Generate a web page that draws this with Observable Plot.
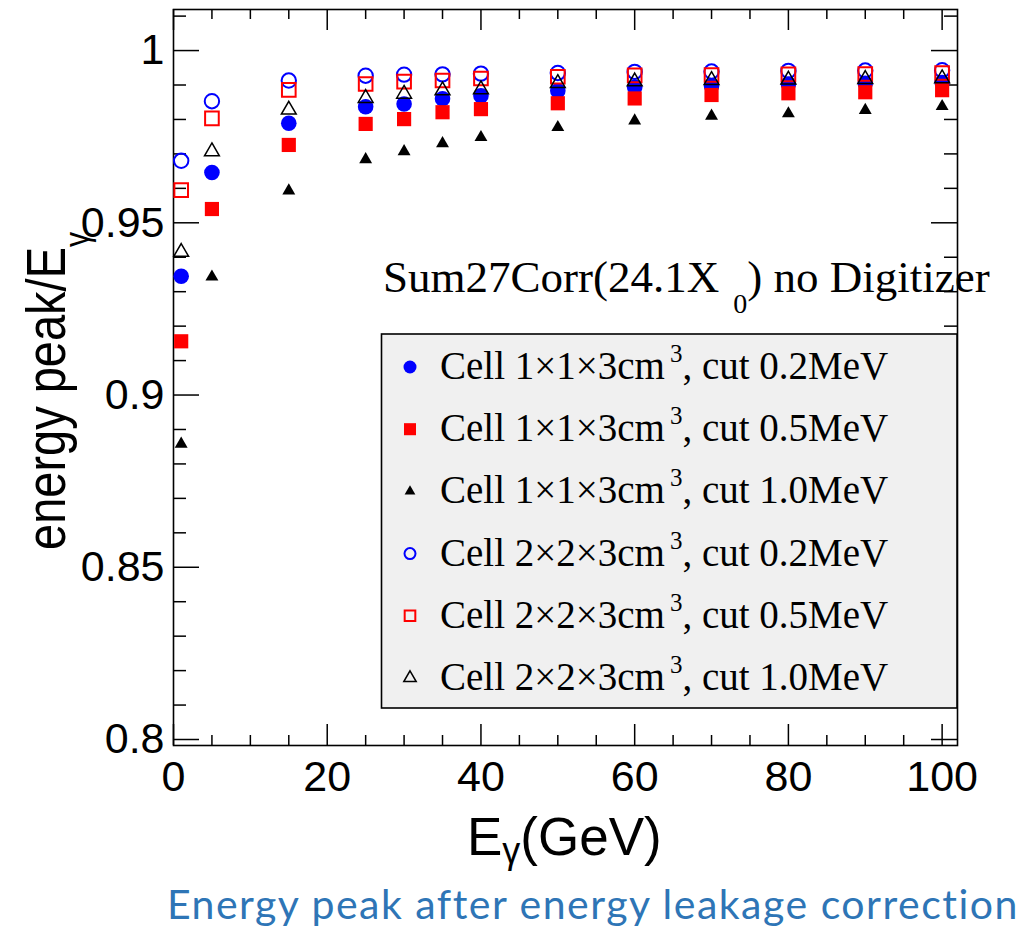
<!DOCTYPE html>
<html>
<head>
<meta charset="utf-8">
<script src="https://cdn.jsdelivr.net/npm/d3@7"></script>
<script src="https://cdn.jsdelivr.net/npm/@observablehq/plot@0.6"></script>
<style>
html, body { margin: 0; padding: 0; background: #fff; }
#chart svg { display: block; }
#caption {
  font-family: Lato, "Open Sans", sans-serif;
  font-size: 41px;
  letter-spacing: 1.5px;
  color: #2E75B6;
  text-align: right;
  padding-right: 4px;
  height: 48px;
  line-height: 48px;
  white-space: nowrap;
}
</style>
</head>
<body>
<div id="chart"></div>
<div id="caption">Energy peak after energy leakage correction</div>
<script>
// ---------- data ----------
const energies = [1, 5, 15, 25, 30, 35, 40, 50, 60, 70, 80, 90, 100];

const cell1Cut02 = [0.9345, 0.9646, 0.9789, 0.9837, 0.9845, 0.9860, 0.9869, 0.9883, 0.9893, 0.9897, 0.9903, 0.9905, 0.9907];
const cell1Cut05 = [0.9156, 0.9540, 0.9726, 0.9787, 0.9801, 0.9821, 0.9830, 0.9847, 0.9861, 0.9871, 0.9876, 0.9879, 0.9885];
const cell1Cut10 = [0.8858, 0.9343, 0.9593, 0.9684, 0.9707, 0.9730, 0.9748, 0.9777, 0.9796, 0.9810, 0.9817, 0.9827, 0.9838];
const cell2Cut02 = [0.9680, 0.9853, 0.9913, 0.9927, 0.9930, 0.9931, 0.9933, 0.9935, 0.9938, 0.9939, 0.9941, 0.9942, 0.9943];
const cell2Cut05 = [0.9595, 0.9803, 0.9886, 0.9903, 0.9910, 0.9913, 0.9919, 0.9924, 0.9928, 0.9929, 0.9931, 0.9932, 0.9935];
const cell2Cut10 = [0.9415, 0.9707, 0.9828, 0.9862, 0.9874, 0.9884, 0.9887, 0.9905, 0.9910, 0.9914, 0.9915, 0.9917, 0.9919];

const cellSizes = ["1×1×3cm", "1×1×3cm", "1×1×3cm", "2×2×3cm", "2×2×3cm", "2×2×3cm"];
const cutLabels = ["0.2MeV", "0.5MeV", "1.0MeV", "0.2MeV", "0.5MeV", "1.0MeV"];

const xMajorTicks = [0, 20, 40, 60, 80, 100];
const xMinorTicks = [5, 10, 15, 25, 30, 35, 45, 50, 55, 65, 70, 75, 85, 90, 95];
const yMajorTicks = [0.8, 0.85, 0.9, 0.95, 1];
const yMinorTicks = [0.81, 0.82, 0.83, 0.84, 0.86, 0.87, 0.88, 0.89, 0.91, 0.92, 0.93, 0.94, 0.96, 0.97, 0.98, 0.99, 1.01];

// ---------- styles ----------
const seriesValues = [cell1Cut02, cell1Cut05, cell1Cut10, cell2Cut02, cell2Cut05, cell2Cut10];
const seriesStyles = [
  {symbol: "circle",   r: 7.8, fill: "#0000ff", stroke: "none",    sw: 0,   lr: 6.5},
  {symbol: "square",   r: 8.0, fill: "#ff0000", stroke: "none",    sw: 0,   lr: 6.8},
  {symbol: "triangle", r: 4.8, fill: "#000000", stroke: "none",    sw: 0,   lr: 4.0},
  {symbol: "circle",   r: 7.2, fill: "none",    stroke: "#0000ff", sw: 2,   lr: 5.5},
  {symbol: "square",   r: 7.7, fill: "none",    stroke: "#ff0000", sw: 2,   lr: 6.0},
  {symbol: "triangle", r: 5.5, fill: "none",    stroke: "#000000", sw: 1.5, lr: 4.6}
];

// ---------- layout ----------
const W = 1023, H = 880, mL = 173, mR = 66, mT = 9, mB = 135;
const plotW = W - mL - mR, plotH = H - mT - mB;
const sans = "'Liberation Sans', Arial, Helvetica, sans-serif";
const serif = "'Liberation Serif', 'Times New Roman', Times, serif";

const marks = [];
marks.push(Plot.frame({stroke: "#000", strokeWidth: 1.6}));
const tickStyle = {stroke: "#000", strokeWidth: 1.5};
marks.push(Plot.tickX(xMajorTicks, {x: d => d, insetTop: plotH - 21, ...tickStyle}));
marks.push(Plot.tickX(xMajorTicks, {x: d => d, insetBottom: plotH - 21, ...tickStyle}));
marks.push(Plot.tickX(xMinorTicks, {x: d => d, insetTop: plotH - 10, ...tickStyle}));
marks.push(Plot.tickX(xMinorTicks, {x: d => d, insetBottom: plotH - 10, ...tickStyle}));
marks.push(Plot.tickY(yMajorTicks, {y: d => d, insetRight: plotW - 26, ...tickStyle}));
marks.push(Plot.tickY(yMajorTicks, {y: d => d, insetLeft: plotW - 26, ...tickStyle}));
marks.push(Plot.tickY(yMinorTicks, {y: d => d, insetRight: plotW - 13, ...tickStyle}));
marks.push(Plot.tickY(yMinorTicks, {y: d => d, insetLeft: plotW - 13, ...tickStyle}));
marks.push(Plot.axisX(xMajorTicks, {tickSize: 0, tickPadding: 15, fontSize: 43, label: null, tickFormat: d => String(d)}));
marks.push(Plot.axisY(yMajorTicks, {tickSize: 0, tickPadding: 9, fontSize: 43, label: null, tickFormat: d => String(d)}));

seriesValues.forEach((vals, i) => {
  const st = seriesStyles[i];
  const rows = energies.map((e, j) => ({e, v: vals[j]}));
  marks.push(Plot.dot(rows, {
    x: "e", y: "v", symbol: st.symbol, r: st.r,
    fill: st.fill, stroke: st.stroke, strokeWidth: st.sw
  }));
});

const plot = Plot.plot({
  width: W, height: H,
  marginLeft: mL, marginRight: mR, marginTop: mT, marginBottom: mB,
  x: {domain: [0, 102]},
  y: {domain: [0.79826, 1.01192]},
  style: {fontFamily: sans, background: "white", color: "black", overflow: "visible"},
  marks
});
document.getElementById("chart").append(plot);

// ---------- text annotations & legend ----------
const svg = d3.select(plot);

// y axis title
const yl = svg.append("text")
  .attr("text-anchor", "start")
  .attr("transform", "translate(65,550) rotate(-90) scale(1,1.18)")
  .attr("font-family", sans).attr("font-size", 47).attr("fill", "#000");
yl.append("tspan").text("energy peak/E");
yl.append("tspan").attr("font-size", 30).attr("dy", 20).text("γ");

// x axis title
const xl = svg.append("text")
  .attr("text-anchor", "start")
  .attr("x", 467).attr("y", 855)
  .attr("font-family", sans).attr("font-size", 53).attr("fill", "#000");
xl.append("tspan").text("E");
xl.append("tspan").attr("font-size", 36).attr("dy", 8).text("γ");
xl.append("tspan").attr("dy", -8).text("(GeV)");

// annotation
const an = svg.append("text")
  .attr("text-anchor", "start")
  .attr("x", 383).attr("y", 292)
  .attr("font-family", serif).attr("font-size", 45).attr("fill", "#000");
an.append("tspan").text("Sum27Corr(24.1X");
an.append("tspan").attr("font-size", 28).attr("dx", 14).attr("dy", 21).text("0");
an.append("tspan").attr("dy", -21).text(") no Digitizer");

// legend box
const lg = svg.append("g").attr("text-anchor", "start");
const boxX = 381.5, boxY = 334, boxR = W - mR, boxB = 708;
lg.append("rect").attr("x", boxX).attr("y", boxY)
  .attr("width", boxR - boxX).attr("height", boxB - boxY)
  .attr("fill", "#f0f0f0").attr("stroke", "#000").attr("stroke-width", 1.6);

const symbolMap = {circle: d3.symbolCircle, square: d3.symbolSquare, triangle: d3.symbolTriangle};
seriesStyles.forEach((st, i) => {
  const cy = 367 + i * 62.2;
  lg.append("path")
    .attr("d", d3.symbol(symbolMap[st.symbol], Math.PI * st.lr * st.lr)())
    .attr("transform", `translate(410,${cy})`)
    .attr("fill", st.fill).attr("stroke", st.stroke).attr("stroke-width", st.sw);
  const t = lg.append("text")
    .attr("x", 440).attr("y", cy + 12)
    .attr("font-family", serif).attr("font-size", 39).attr("fill", "#000");
  t.append("tspan").text("Cell " + cellSizes[i]);
  t.append("tspan").attr("font-size", 25).attr("dx", 5).attr("dy", -17).text("3");
  t.append("tspan").attr("dy", 17).text(", cut " + cutLabels[i]);
});
</script>
</body>
</html>
